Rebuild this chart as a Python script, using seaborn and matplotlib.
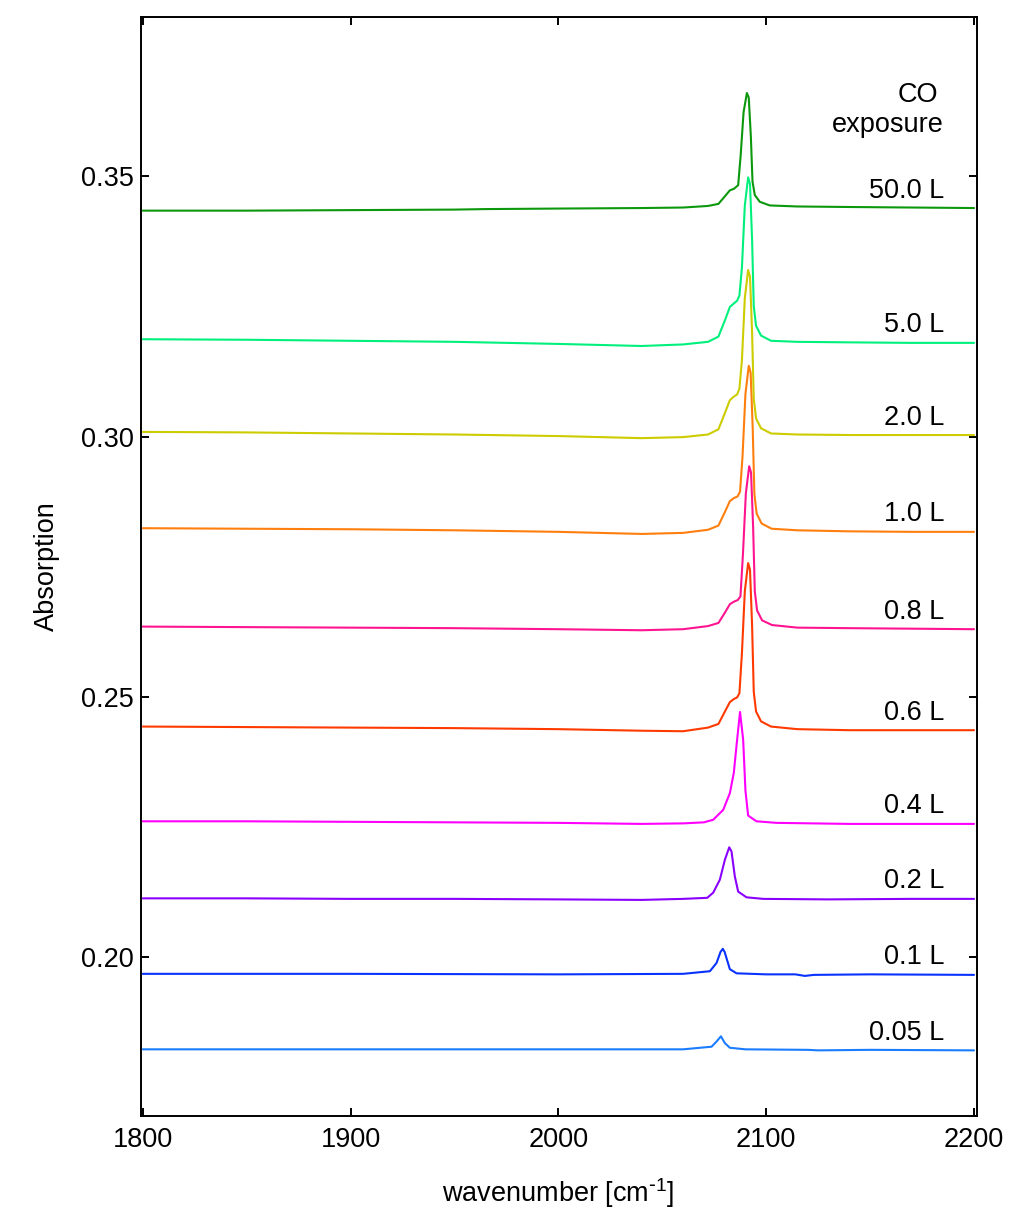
import matplotlib
matplotlib.use("Agg")
import matplotlib.pyplot as plt
import seaborn as sns
import pandas as pd

# CO exposure labels, from lowest to highest trace
exposures = ["0.05 L", "0.1 L", "0.2 L", "0.4 L", "0.6 L", "0.8 L", "1.0 L", "2.0 L", "5.0 L", "50.0 L"]

colors = ["#1a7cff", "#0a32ff", "#8a00ff", "#ff00ff", "#ff3a00",
          "#ff1490", "#ff7f0e", "#cccc00", "#00f07c", "#0c980c"]

# IR absorption spectra (wavenumber in cm^-1, absorption)
wn_005 = [1800, 1900, 2000, 2060, 2073.7, 2076.1, 2078.2, 2080.1, 2082.5, 2090, 2120, 2125, 2150, 2200]
ab_005 = [0.1823, 0.1823, 0.1823, 0.1823, 0.1828, 0.1838, 0.1848, 0.1835, 0.1826, 0.1823, 0.1822, 0.1821, 0.1822, 0.1821]

wn_01 = [1800, 1900, 2000, 2060, 2072.9, 2076.1, 2078.0, 2079.1, 2080.0, 2080.9, 2082.5, 2085.7, 2100, 2114, 2118.6, 2123, 2150, 2200]
ab_01 = [0.1968, 0.1968, 0.1967, 0.1968, 0.1973, 0.1989, 0.2010, 0.2016, 0.2010, 0.1998, 0.1977, 0.1969, 0.1967, 0.1967, 0.1964, 0.1966, 0.1967, 0.1966]

wn_02 = [1800, 1850, 1900, 1950, 2000, 2040, 2060, 2071.6, 2074.5, 2077.7, 2080.1, 2082.2, 2083.3, 2084.9, 2086.5, 2090.5, 2098.5, 2130, 2170, 2200]
ab_02 = [0.2113, 0.2113, 0.2112, 0.2112, 0.2111, 0.2110, 0.2112, 0.2114, 0.2124, 0.2149, 0.2187, 0.2211, 0.2203, 0.2155, 0.2126, 0.2115, 0.2112, 0.2111, 0.2112, 0.2112]

wn_04 = [1800, 1850, 1900, 1950, 2000, 2040, 2060, 2070, 2074.5, 2079.3, 2082.5, 2084.4, 2086.0, 2087.4, 2088.9, 2090.0, 2091.3, 2095.3, 2105, 2140, 2170, 2200]
ab_04 = [0.2261, 0.2261, 0.2260, 0.2259, 0.2258, 0.2256, 0.2257, 0.2259, 0.2264, 0.2283, 0.2315, 0.2354, 0.2418, 0.2471, 0.2418, 0.2320, 0.2272, 0.2261, 0.2258, 0.2256, 0.2256, 0.2256]

wn_06 = [1800, 1850, 1900, 1950, 2000, 2040, 2060, 2072, 2077, 2080, 2082.5, 2084.5, 2086.0, 2087.1, 2088.3, 2089.7, 2091.3, 2092.2, 2093.2, 2094.0, 2095.1, 2097.5, 2102.3, 2115, 2140, 2170, 2200]
ab_06 = [0.2443, 0.2442, 0.2441, 0.2440, 0.2438, 0.2435, 0.2434, 0.2441, 0.2448, 0.2471, 0.2490, 0.2496, 0.2499, 0.2507, 0.2583, 0.2703, 0.2757, 0.2744, 0.2637, 0.2510, 0.2472, 0.2453, 0.2443, 0.2438, 0.2436, 0.2436, 0.2436]

wn_08 = [1800, 1850, 1900, 1950, 2000, 2040, 2060, 2072, 2077, 2080, 2082.5, 2084.5, 2086.3, 2087.6, 2088.8, 2090.2, 2091.8, 2092.7, 2093.7, 2094.5, 2095.6, 2098.0, 2102.8, 2115, 2140, 2170, 2200]
ab_08 = [0.2635, 0.2634, 0.2633, 0.2632, 0.2630, 0.2628, 0.2630, 0.2636, 0.2642, 0.2661, 0.2678, 0.2683, 0.2686, 0.2693, 0.2774, 0.2891, 0.2943, 0.2931, 0.2826, 0.2703, 0.2666, 0.2647, 0.2638, 0.2633, 0.2632, 0.2631, 0.2630]

wn_10 = [1800, 1850, 1900, 1950, 2000, 2040, 2060, 2072, 2077, 2080, 2082.5, 2084.5, 2086.2, 2087.4, 2088.6, 2090.0, 2091.6, 2092.5, 2093.5, 2094.3, 2095.4, 2097.8, 2102.6, 2115, 2140, 2170, 2200]
ab_10 = [0.2824, 0.2823, 0.2822, 0.2820, 0.2817, 0.2813, 0.2815, 0.2821, 0.2829, 0.2854, 0.2876, 0.2882, 0.2885, 0.2894, 0.2962, 0.3082, 0.3136, 0.3123, 0.3016, 0.2890, 0.2852, 0.2833, 0.2823, 0.2820, 0.2818, 0.2817, 0.2817]

wn_20 = [1800, 1850, 1900, 1950, 2000, 2040, 2060, 2072, 2077, 2080, 2082.5, 2084.5, 2086.0, 2087.1, 2088.3, 2089.7, 2091.3, 2092.2, 2093.2, 2094.0, 2095.1, 2097.5, 2102.3, 2115, 2140, 2170, 2200]
ab_20 = [0.3009, 0.3008, 0.3006, 0.3004, 0.3001, 0.2997, 0.2999, 0.3004, 0.3014, 0.3044, 0.3070, 0.3077, 0.3081, 0.3092, 0.3146, 0.3266, 0.3320, 0.3307, 0.3200, 0.3073, 0.3035, 0.3016, 0.3006, 0.3004, 0.3003, 0.3003, 0.3003]

wn_50 = [1800, 1850, 1900, 1950, 2000, 2040, 2060, 2072, 2077, 2080, 2082.5, 2084.5, 2086.0, 2087.1, 2088.3, 2089.7, 2091.3, 2092.2, 2093.2, 2094.0, 2095.1, 2097.5, 2102.3, 2115, 2140, 2170, 2200]
ab_50 = [0.3187, 0.3186, 0.3184, 0.3182, 0.3178, 0.3174, 0.3177, 0.3182, 0.3192, 0.3222, 0.3249, 0.3256, 0.3261, 0.3271, 0.3324, 0.3444, 0.3498, 0.3485, 0.3378, 0.3251, 0.3213, 0.3194, 0.3184, 0.3182, 0.3181, 0.3180, 0.3180]

wn_500 = [1800, 1850, 1900, 1950, 1965, 2000, 2040, 2060, 2072, 2077, 2080, 2082.5, 2084.5, 2086.5, 2087.7, 2089.1, 2090.7, 2091.6, 2092.6, 2093.4, 2094.5, 2096.9, 2101.7, 2115, 2140, 2170, 2200]
ab_500 = [0.3434, 0.3434, 0.3435, 0.3436, 0.3437, 0.3438, 0.3439, 0.3440, 0.3443, 0.3447, 0.3461, 0.3473, 0.3476, 0.3483, 0.3540, 0.3623, 0.3660, 0.3651, 0.3577, 0.3490, 0.3464, 0.3451, 0.3444, 0.3442, 0.3441, 0.3440, 0.3439]

wavenumbers = [wn_005, wn_01, wn_02, wn_04, wn_06, wn_08, wn_10, wn_20, wn_50, wn_500]
absorptions = [ab_005, ab_01, ab_02, ab_04, ab_06, ab_08, ab_10, ab_20, ab_50, ab_500]

x_ticks = [1800, 1900, 2000, 2100, 2200]
y_ticks = [0.20, 0.25, 0.30, 0.35]

frames = [pd.DataFrame({"wavenumber": w, "absorption": a, "exposure": e})
          for w, a, e in zip(wavenumbers, absorptions, exposures)]
df = pd.concat(frames, ignore_index=True)

sns.set_style("ticks")
plt.rcParams["font.family"] = ["Liberation Sans", "DejaVu Sans"]
plt.rcParams["mathtext.default"] = "regular"
plt.rcParams["text.color"] = "black"
plt.rcParams["axes.labelcolor"] = "black"
plt.rcParams["xtick.color"] = "black"
plt.rcParams["ytick.color"] = "black"

fig = plt.figure(figsize=(10.13, 12.13), dpi=100)
ax = fig.add_axes([0.1389, 0.0800, 0.8253, 0.9060])

sns.lineplot(data=df, x="wavenumber", y="absorption", hue="exposure",
             hue_order=exposures, palette=dict(zip(exposures, colors)),
             estimator=None, legend=False, linewidth=1.5, ax=ax)

ax.set_xlim(1799, 2201.3)
ax.set_ylim(0.1695, 0.3806)
ax.set_xticks(x_ticks)
ax.set_yticks(y_ticks)
ax.set_yticklabels([f"{v:.2f}" for v in y_ticks])

for side in ["left", "right", "top", "bottom"]:
    ax.spines[side].set_visible(True)
    ax.spines[side].set_linewidth(1.4)
    ax.spines[side].set_color("black")

ax.tick_params(axis="both", which="major", direction="in", length=6, width=1.4,
               labelsize=19.5, top=True, right=True, color="black", labelcolor="black")
ax.tick_params(axis="x", pad=8)
ax.tick_params(axis="y", pad=5)

ax.set_xlabel(r"wavenumber [cm$^{\text{-}1}$]", fontsize=19.5, color="black")
ax.set_ylabel("Absorption", fontsize=19.5, color="black")
ax.xaxis.set_label_coords(0.5, -0.055)
ax.yaxis.set_label_coords(-0.097, 0.5)

# exposure labels just above the right end of each trace
label_x = 2185.6
for e, a in zip(exposures, absorptions):
    ax.text(label_x, a[-1] + 0.0020, e, ha="right", va="baseline", fontsize=19.5, color="black")

ax.text(2182.6, 0.3643, "CO", ha="right", va="baseline", fontsize=19.5, color="black")
ax.text(2185.6, 0.3585, "exposure", ha="right", va="baseline", fontsize=19.5, color="black")

fig.savefig("out.png", dpi=100)
